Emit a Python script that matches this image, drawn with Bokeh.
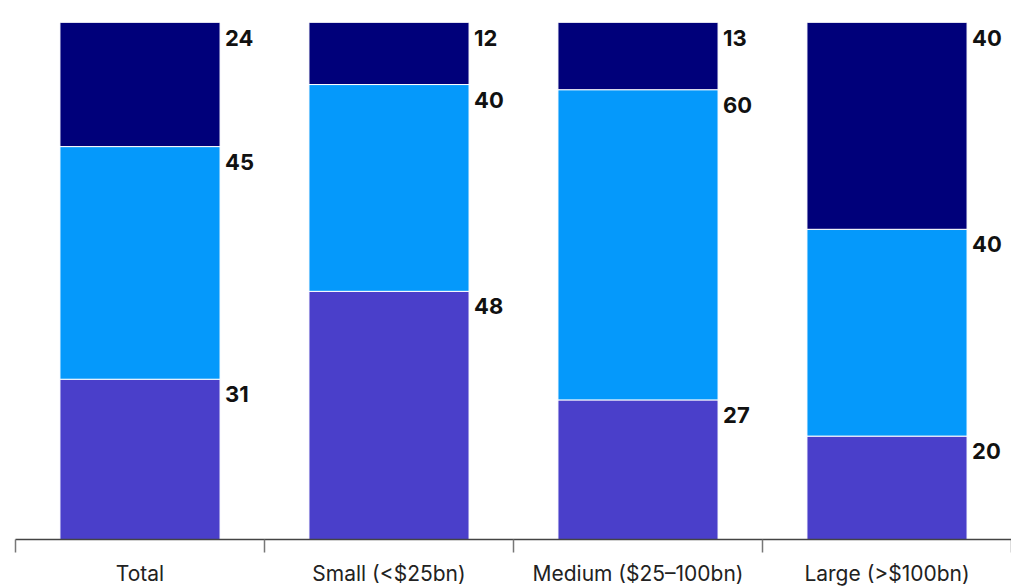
from bokeh.plotting import figure
from bokeh.models import ColumnDataSource, FixedTicker, Range1d
from bokeh.core.properties import value
from bokeh.embed import file_html
from bokeh.resources import INLINE

categories = ["Total", "Small (<$25bn)", "Medium ($25\u2013100bn)", "Large (>$100bn)"]
bottom_vals = [31, 48, 27, 20]
middle_vals = [45, 40, 60, 40]
top_vals = [24, 12, 13, 40]
series = ["bottom", "middle", "top"]
colors = ["#4a3fca", "#0599fb", "#00007a"]

n = len(categories)
xs = [i + 0.5 for i in range(n)]
bar_w = 0.643

data = dict(x=xs, bottom=bottom_vals, middle=middle_vals, top=top_vals)
src = ColumnDataSource(data)

p = figure(width=1011, height=588, output_backend="svg", toolbar_location=None,
           x_range=Range1d(0, n), y_range=Range1d(0, 100),
           min_border_left=15, min_border_right=0, min_border_top=22, min_border_bottom=44)
p.outline_line_color = None
p.xgrid.visible = False
p.ygrid.visible = False
p.yaxis.visible = False

p.vbar_stack(series, x="x", width=bar_w, source=src, color=colors,
             line_color="white", line_width=1)

# value labels
lab_x, lab_y, lab_t = [], [], []
for i in range(n):
    cum = 0
    for vals in (bottom_vals, middle_vals, top_vals):
        cum += vals[i]
        lab_x.append(xs[i] + bar_w / 2)
        lab_y.append(cum)
        lab_t.append(str(vals[i]))
p.text(x=lab_x, y=lab_y, text=lab_t, x_offset=5, y_offset=7,
       text_baseline="top", text_align="left",
       text_font=value("Inter"), text_font_style="bold",
       text_font_size="22px", text_color="#111111")

ax = p.xaxis[0]
ax.ticker = FixedTicker(ticks=xs, minor_ticks=list(range(n + 1)))
ax.major_label_overrides = {x: c for x, c in zip(xs, categories)}
ax.major_tick_line_color = None
ax.major_tick_out = 0
ax.major_tick_in = 0
ax.minor_tick_out = 13
ax.minor_tick_in = 0
ax.minor_tick_line_color = "#777777"
ax.minor_tick_line_width = 1.5
ax.axis_line_color = "#444444"
ax.axis_line_width = 1.5
ax.major_label_standoff = 8
ax.major_label_text_font = "Inter"
ax.major_label_text_font_size = "21px"
ax.major_label_text_color = "#222222"

open("out.html", "w").write(file_html(p, INLINE))
